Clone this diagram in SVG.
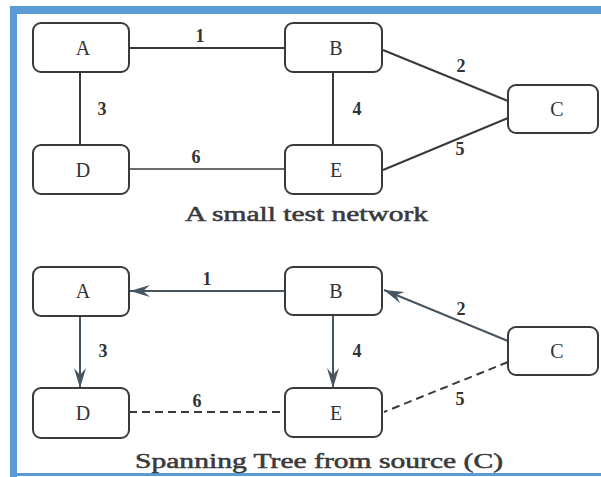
<svg xmlns="http://www.w3.org/2000/svg" width="601" height="477" viewBox="0 0 601 477">
<style>
.node rect{fill:#fff;stroke:#3a3a3a;stroke-width:2}
.node text{font-family:"Liberation Serif","DejaVu Serif",serif;font-size:20px;fill:#333;text-anchor:middle}
.lbl{font-family:"Liberation Serif","DejaVu Serif",serif;font-size:18px;fill:#333;text-anchor:middle;font-weight:bold}
.edge{stroke:#3a3a3a;stroke-width:2;fill:none}
.thin{stroke-width:1.3}
.dash{stroke-dasharray:8 5}
.arr{stroke:#475560}
.cap{font-family:"Liberation Serif","DejaVu Serif",serif;font-size:20px;fill:#3a3a3a;stroke:#3a3a3a;stroke-width:0.5}
</style>
<defs>
<marker id="ah" markerUnits="userSpaceOnUse" markerWidth="24" markerHeight="16" viewBox="-22 -8 24 16" refX="0" refY="0" orient="auto">
<path d="M0,0 L-20,-6 L-13,0 L-20,6 Z" fill="#475560"/>
</marker>
</defs>
<rect x="0" y="0" width="601" height="477" fill="#fff"/>
<!-- frame -->
<rect x="10" y="6" width="591" height="8" fill="#5b9bd5"/>
<rect x="10" y="6" width="7" height="471" fill="#5b9bd5"/>
<rect x="10" y="473" width="591" height="3" fill="#5b9bd5"/>

<g id="connectors">
<!-- top -->
<line class="edge" x1="129" y1="48" x2="285" y2="48"/>
<line class="edge" x1="80" y1="72" x2="80" y2="145"/>
<line class="edge thin" x1="129" y1="169" x2="285" y2="169"/>
<line class="edge" x1="333" y1="72" x2="333" y2="145"/>
<line class="edge" x1="383" y1="50" x2="508" y2="101"/>
<line class="edge" x1="383" y1="170" x2="508" y2="118"/>
<!-- bottom -->
<line class="edge arr" x1="285" y1="291" x2="130" y2="291" marker-end="url(#ah)"/>
<line class="edge arr" x1="80" y1="316" x2="80" y2="388" marker-end="url(#ah)"/>
<line class="edge dash" x1="129" y1="412" x2="285" y2="412"/>
<line class="edge arr" x1="333" y1="315" x2="333" y2="388" marker-end="url(#ah)"/>
<line class="edge arr" x1="508" y1="341" x2="384" y2="290" marker-end="url(#ah)"/>
<line class="edge dash" x1="508" y1="362" x2="384" y2="412"/>
</g>

<g id="labels">
<text class="lbl" x="200" y="42">1</text>
<text class="lbl" x="102" y="115">3</text>
<text class="lbl" x="196" y="163">6</text>
<text class="lbl" x="357" y="115">4</text>
<text class="lbl" x="461" y="72">2</text>
<text class="lbl" x="460" y="155">5</text>
<text class="lbl" x="207" y="285">1</text>
<text class="lbl" x="103" y="357">3</text>
<text class="lbl" x="197" y="407">6</text>
<text class="lbl" x="357" y="357">4</text>
<text class="lbl" x="461" y="315">2</text>
<text class="lbl" x="460" y="405">5</text>
</g>

<g id="top-A" class="node"><rect x="33" y="23" width="96" height="49" rx="8"/><text x="83" y="55">A</text></g>
<g id="top-B" class="node"><rect x="285" y="23" width="97" height="49" rx="8"/><text x="336" y="55">B</text></g>
<g id="top-C" class="node"><rect x="508" y="85" width="90" height="48" rx="8"/><text x="557" y="116">C</text></g>
<g id="top-D" class="node"><rect x="33" y="145" width="96" height="49" rx="8"/><text x="83" y="177">D</text></g>
<g id="top-E" class="node"><rect x="285" y="145" width="97" height="49" rx="8"/><text x="336" y="177">E</text></g>

<g id="bot-A" class="node"><rect x="33" y="267" width="96" height="49" rx="8"/><text x="83" y="298">A</text></g>
<g id="bot-B" class="node"><rect x="285" y="267" width="97" height="48" rx="8"/><text x="336" y="298">B</text></g>
<g id="bot-C" class="node"><rect x="508" y="327" width="90" height="48" rx="8"/><text x="557" y="358">C</text></g>
<g id="bot-D" class="node"><rect x="33" y="388" width="96" height="50" rx="8"/><text x="83" y="420">D</text></g>
<g id="bot-E" class="node"><rect x="285" y="388" width="97" height="49" rx="8"/><text x="336" y="420">E</text></g>

<text class="cap" x="185" y="221" textLength="243" lengthAdjust="spacingAndGlyphs">A small test network</text>
<text class="cap" x="135" y="468" textLength="368" lengthAdjust="spacingAndGlyphs">Spanning Tree from source (C)</text>
</svg>
